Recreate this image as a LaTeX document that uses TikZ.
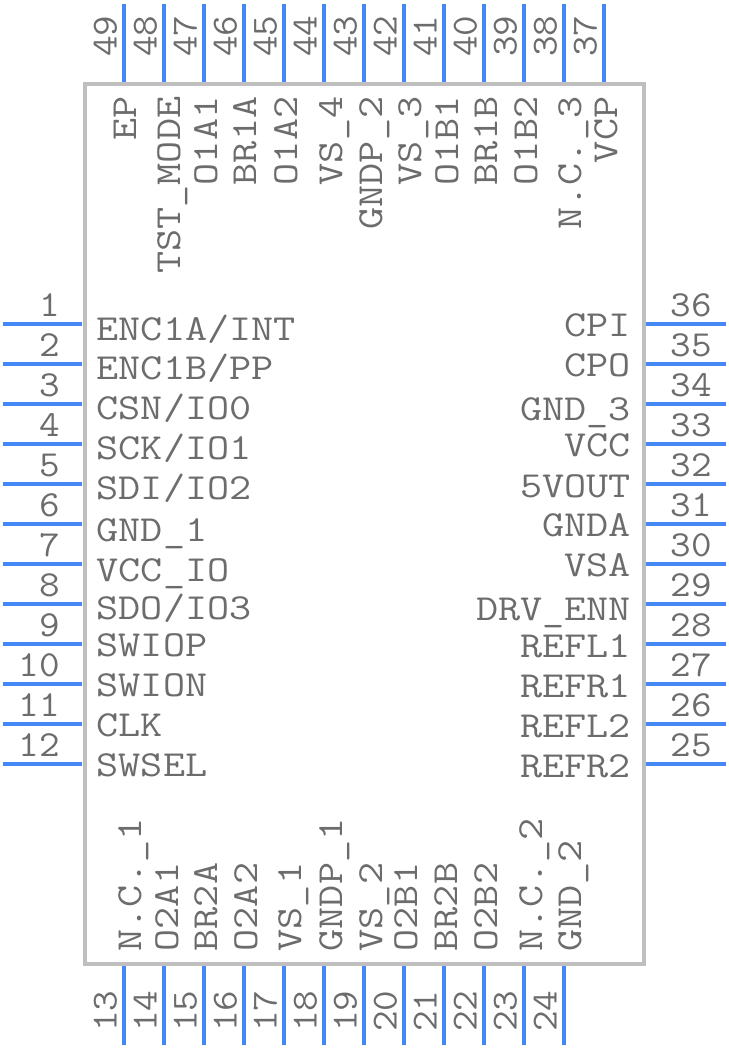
\documentclass[tikz,border=0pt]{standalone}
\usepackage{fontspec}
\newfontfamily\pinfont[FakeStretch=1.17]{Latin Modern Mono}
\newfontfamily\numfont[FakeStretch=1.09]{Latin Modern Mono}
\definecolor{pinblue}{HTML}{4488F5}
\definecolor{bodygray}{HTML}{BFBFBF}
\definecolor{textgray}{HTML}{6C6C6C}
\tikzset{
    pinline/.style={draw=pinblue, line width=4.2pt},
    pintext/.style={text=textgray, inner sep=0pt, font=\pinfont\fontsize{36.7}{40}\selectfont},
    pinnum/.style={text=textgray, inner sep=0pt, font=\numfont\fontsize{36.7}{40}\selectfont},
}

\begin{document}
\begin{tikzpicture}[x=1pt,y=-1pt]
    \useasboundingbox (0,0) rectangle (728,1048);

    % Package outline
    \draw[draw=bodygray, line width=4pt] (84.5,84) rectangle (644,964);

    % Left side pins
    \foreach \n in {1,...,12} {
        \pgfmathsetmacro{\py}{323.7+40*(\n-1)}
        \draw[pinline] (3,\py) -- (82,\py);
        \node[pinnum, anchor=base east] (num\n) at (60,\py-7.5) {\n};
    }
    % Right side pins
    \foreach \n in {25,...,36} {
        \pgfmathsetmacro{\py}{763.7-40*(\n-25)}
        \draw[pinline] (646,\py) -- (725.5,\py);
        \node[pinnum, anchor=base east] (num\n) at (712,\py-7.5) {\n};
    }
    % Bottom side pins
    \foreach \n in {13,...,24} {
        \pgfmathsetmacro{\px}{124+40*(\n-13)}
        \draw[pinline] (\px,966) -- (\px,1045);
        \node[pinnum, rotate=90, anchor=base west] (num\n) at (\px-7.5,1032) {\n};
    }
    % Top side pins
    \foreach \n in {37,...,49} {
        \pgfmathsetmacro{\px}{604-40*(\n-37)}
        \draw[pinline] (\px,4) -- (\px,82);
        \node[pinnum, rotate=90, anchor=base west] (num\n) at (\px-7.5,57) {\n};
    }

    % Left side names
    \foreach \n/\by/\txt in {1/340/{ENC1A/INT},2/379/{ENC1B/PP},3/419/{CSN/IO0},4/459/{SCK/IO1},
        5/499/{SDI/IO2},6/541/{GND\_1},7/581/{VCC\_IO},8/619/{SDO/IO3},
        9/656/{SWIOP},10/696/{SWION},11/736/{CLK},12/776/{SWSEL}} {
        \node[pintext, anchor=base west] (name\n) at (96.5,\by) {\txt};
    }
    % Right side names
    \foreach \n/\by/\txt in {36/336/{CPI},35/376/{CPO},34/420/{GND\_3},33/456/{VCC},
        32/497/{5VOUT},31/536/{GNDA},30/576/{VSA},29/620/{DRV\_ENN},
        28/657/{REFL1},27/697/{REFR1},26/737/{REFL2},25/777/{REFR2}} {
        \node[pintext, anchor=base east] (name\n) at (631,\by) {\txt};
    }
    % Bottom side names
    \foreach \n/\bx/\txt in {13/141/{N.C.\_1},14/178/{O2A1},15/217/{BR2A},16/257/{O2A2},
        17/301/{VS\_1},18/342/{GNDP\_1},19/382/{VS\_2},20/417/{O2B1},
        21/457/{BR2B},22/497/{O2B2},23/542/{N.C.\_2},24/581/{GND\_2}} {
        \node[pintext, rotate=90, anchor=base west] (name\n) at (\bx,951.5) {\txt};
    }
    % Top side names
    \foreach \n/\bx/\txt in {49/136/{EP},48/180/{TST\_MODE},47/217/{O1A1},46/256/{BR1A},
        45/297/{O1A2},44/342/{VS\_4},43/382/{GNDP\_2},42/421/{VS\_3},
        41/458/{O1B1},40/497/{BR1B},39/537/{O1B2},38/581/{N.C.\_3},37/617/{VCP}} {
        \node[pintext, rotate=90, anchor=base east] (name\n) at (\bx,96.5) {\txt};
    }
\end{tikzpicture}
\end{document}
